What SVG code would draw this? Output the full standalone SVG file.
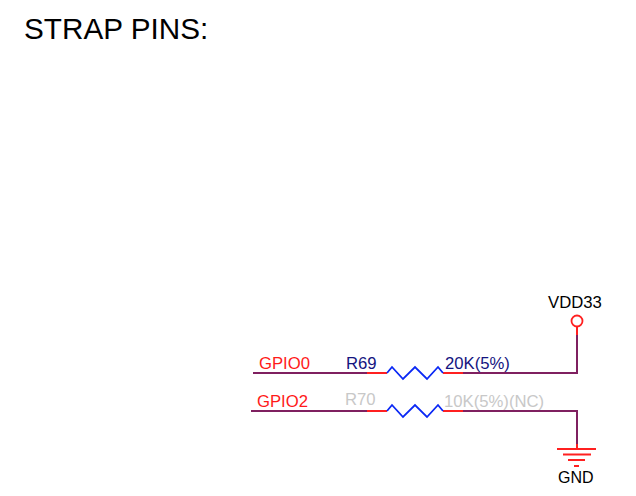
<svg xmlns="http://www.w3.org/2000/svg" width="636" height="496" viewBox="0 0 636 496">
<style>
text{font-family:"Liberation Sans",Arial,sans-serif;font-size:16.7px}
.wire{fill:none;stroke:#7f2060;stroke-width:2}
.pin{fill:none;stroke:#ff2020;stroke-width:2}
.res{fill:none;stroke:#0a28f5;stroke-width:1.8}
.r{fill:#ff1a1a}.b{fill:#14147f}.g{fill:#c8c8c8}.k{fill:#000}
</style>
<rect width="636" height="496" fill="#fff"/>
<text x="24" y="39" style="font-size:29.700px" class="k">STRAP PINS:</text>
<g id="connectors">
<path class="wire" d="M253 373H367"/>
<path class="wire" d="M251 411H367"/>
<path class="wire" d="M463 373H577V334"/>
<path class="wire" d="M463 411H577V448"/>
</g>
<g id="R69">
<path class="pin" d="M367 373H387M443 373H463"/>
<path class="res" d="M387 373L392 367L403 379L415 367L427 379L438 367L443 373"/>
<text x="346" y="369" class="b">R69</text>
<text x="445" y="369" class="b">20K(5%)</text>
</g>
<g id="R70">
<path class="pin" d="M367 411H387M443 411H463"/>
<path class="res" d="M387 411L392 405L403 417L415 405L427 417L438 405L443 411"/>
<text x="345" y="405" class="g">R70</text>
<text x="444" y="407" class="g">10K(5%)(NC)</text>
</g>
<g id="GPIO0"><text x="259" y="369" class="r">GPIO0</text></g>
<g id="GPIO2"><text x="257" y="407" class="r">GPIO2</text></g>
<g id="VDD33">
<circle cx="577" cy="321" r="5.500" fill="none" stroke="#ff2020" stroke-width="1.800"/>
<path class="pin" d="M577 327V335"/>
<text x="548" y="308" class="k">VDD33</text>
</g>
<g id="GND">
<path class="pin" d="M557 449H596M563 454.500H591M568 460H585M574 466H579" style="stroke-width:1.800"/>
<path class="pin" d="M577 444V449"/>
<text x="558" y="482.500" class="k" style="font-size:16px">GND</text>
</g>
</svg>
